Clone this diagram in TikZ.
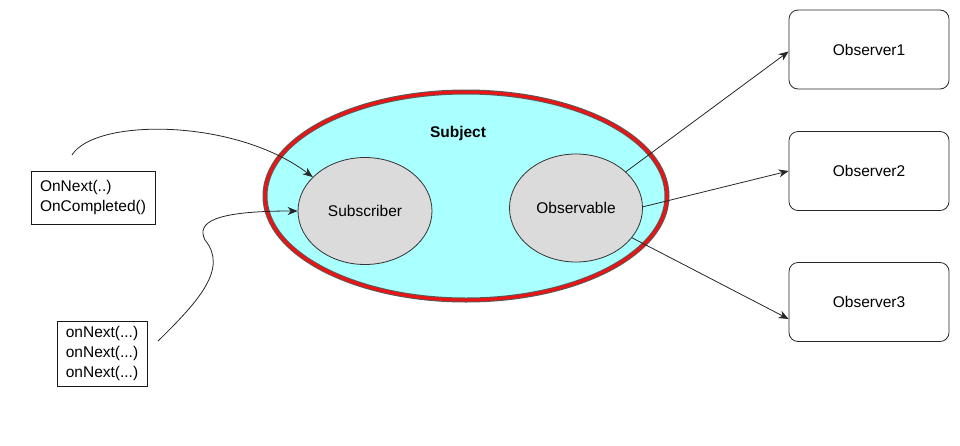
\documentclass[tikz,border=0pt]{standalone}
\usepackage{fontspec}
\setmainfont{Liberation Sans}
\usetikzlibrary{shapes.geometric,arrows.meta,calc}
\begin{document}
\begin{tikzpicture}[x=1pt,y=-1pt,
  every node/.style={font=\fontsize{15.5}{20}\selectfont},
  thin line/.style={line width=0.8pt, draw=black!85},
  arr/.style={thin line, -{Stealth[length=10pt,width=8pt]}},
  inner ell/.style={ellipse, draw=black!80, line width=0.8pt, fill=black!14, inner sep=0pt},
  obsbox/.style={draw=black!85, line width=0.8pt, rounded corners=9pt, minimum width=160pt, minimum height=79pt, inner sep=0pt},
  callbox/.style={draw=black!90, line width=0.8pt, align=left, inner sep=0pt}
]
\useasboundingbox (0,0) rectangle (960,445);
\definecolor{subjfill}{RGB}{170,255,255}
\definecolor{subjred}{RGB}{235,20,20}

% Subject ellipse
\node[ellipse, minimum width=406pt, minimum height=212pt, inner sep=0pt, fill=subjfill] (subj) at (466,196) {};
\draw[black!65, line width=5pt] (466,196) ellipse [x radius=201pt, y radius=104pt];
\draw[subjred, line width=3pt] (466,196) ellipse [x radius=201pt, y radius=104pt];
\node[font=\fontsize{15.5}{20}\selectfont\bfseries] (subjlabel) at (458,133) {Subject};

% Inner ellipses
\node[inner ell, minimum width=134pt, minimum height=107pt] (sub) at (365,211) {Subscriber};
\node[inner ell, minimum width=133pt, minimum height=108pt] (obs) at (576,208) {Observable};

% Observers
\node[obsbox] (o1) at (869,49.5) {Observer1};
\node[obsbox] (o2) at (869,171) {Observer2};
\node[obsbox] (o3) at (869,302) {Observer3};

% Call boxes
\node[callbox, minimum width=124pt, minimum height=53pt] (c1) at (93,197.5) {OnNext(..)\\OnCompleted()};
\node[callbox, minimum width=90pt, minimum height=65pt] (c2) at (102,353.5) {onNext(...)\\onNext(...)\\onNext(...)};

\coordinate (c1top) at (72,155);
\coordinate (c2top) at (158,341);
\coordinate (c2mid) at (205,240);

% Curved arrows into Subscriber
\draw[arr] (c1top) .. controls (95,118) and (235,118) .. (sub.147);
\draw[arr] (c2top) .. controls (200,300) and (228,268) .. (c2mid) .. controls (196,222) and (215,211) .. (sub.west);

% Arrows to observers
\draw[arr] (obs.36) -- ([yshift=-2pt]o1.west);
\draw[arr] (obs.1) -- (o2.west);
\draw[arr] (obs.-28) -- ([yshift=-17pt]o3.west);
\end{tikzpicture}
\end{document}
